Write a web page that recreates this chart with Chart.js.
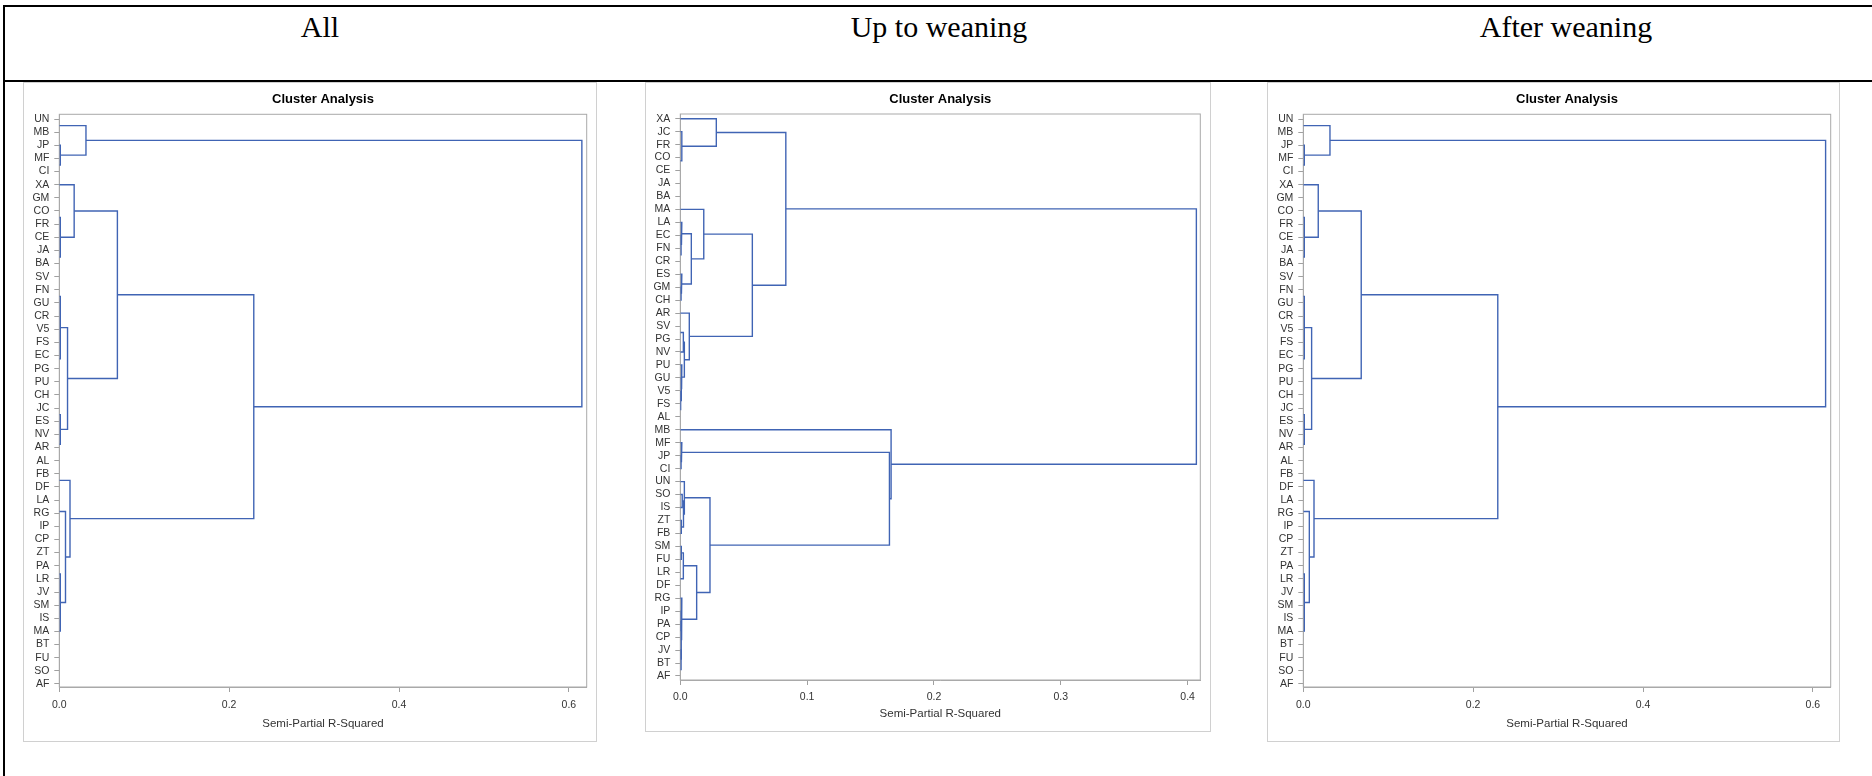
<!DOCTYPE html>
<html><head><meta charset="utf-8">
<script src="https://cdn.jsdelivr.net/npm/chart.js@4.4.1/dist/chart.umd.min.js"></script>
<style>
body{margin:0;background:#fff;width:1872px;height:776px;overflow:hidden;position:relative;font-family:'Liberation Sans',Arial,sans-serif}
.rule{position:absolute;background:#000}
.head{position:absolute;top:10px;font-family:'Liberation Serif','Times New Roman',serif;font-size:30px;line-height:34px;color:#000;transform:translateX(-50%);white-space:nowrap}
.panel{position:absolute;border:1px solid #d0d0d0;box-sizing:border-box;background:#fff}
canvas{position:absolute}
</style></head><body>
<div class="rule" style="left:3px;top:5px;width:1869px;height:2px"></div>
<div class="rule" style="left:3px;top:5px;width:2px;height:771px"></div>
<div class="rule" style="left:3px;top:80px;width:1869px;height:2px"></div>
<div class="head" style="left:320px">All</div>
<div class="head" style="left:939px">Up to weaning</div>
<div class="head" style="left:1566px">After weaning</div>
<div class="panel" style="left:23px;top:82px;width:574px;height:660px"></div>
<div class="panel" style="left:645px;top:82px;width:566px;height:650px"></div>
<div class="panel" style="left:1267px;top:82px;width:573px;height:660px"></div>
<canvas id="c1" width="574" height="660" style="left:23px;top:82px"></canvas>
<canvas id="c2" width="566" height="650" style="left:645px;top:82px"></canvas>
<canvas id="c3" width="573" height="660" style="left:1267px;top:82px"></canvas>
<script>
// ---------- Panel "All" ----------
const allLeaves = ['UN','MB','JP','MF','CI','XA','GM','CO','FR','CE','JA','BA','SV','FN','GU','CR','V5','FS','EC','PG','PU','CH','JC','ES','NV','AR','AL','FB','DF','LA','RG','IP','CP','ZT','PA','LR','JV','SM','IS','MA','BT','FU','SO','AF'];
// each merge joins A and B (leaf label, or number = earlier merge) at a semi-partial R-squared height
const allJoinA = ['UN','MF','JP',0,'GM','FR',4,'JA',6,'XA','SV','GU',10,'FS','V5','PU','PG',14,12,'JC','AR','NV',19,18,9,'FB','IP','RG','LA','ZT','JV','LR',29,'SO','FU','BT','MA','IS',32,28,25,24,3];
const allJoinB = ['MB','CI',1,2,'CO','CE',5,'BA',7,8,'FN','CR',11,'EC',13,'CH',15,16,17,'ES','AL',20,21,22,23,'DF','CP',26,27,'PA','SM',30,31,'AF',33,34,35,36,37,38,39,40,41];
const allHeight = [0,0,0.0012,0.0314,0,0,0,0,0.0012,0.0175,0,0,0,0,0,0,0,0,0.0012,0,0,0,0.0012,0.0097,0.0684,0,0,0,0,0,0,0,0,0,0,0,0,0,0.0012,0.0073,0.0126,0.2290,0.6153];
const allXTicks = [0,0.2,0.4,0.6];

// ---------- Panel "Up to weaning" ----------
const upLeaves = ['XA','JC','FR','CO','CE','JA','BA','MA','LA','EC','FN','CR','ES','GM','CH','AR','SV','PG','NV','PU','GU','V5','FS','AL','MB','MF','JP','CI','UN','SO','IS','ZT','FB','SM','FU','LR','DF','RG','IP','PA','CP','JV','BT','AF'];
const upJoinA = ['CO','JA',0,'FR','JC','XA','FN','EC','LA','GM','ES',8,'MA','SV',13,'FS','V5','GU','PU',14,'AR',12,5,'JP','MF','SO','ZT',25,'UN','SM','LR',29,'PA','IP','BT','JV',33,'RG',31,28,24,'MB',22];
const upJoinB = ['CE','BA',1,2,3,4,'CR',6,7,'CH',9,10,11,'PG','NV','AL',15,16,17,18,19,20,21,'CI',23,'IS','FB',26,27,'FU','DF',30,'CP',32,'AF',34,35,36,37,38,39,40,41];
const upHeight = [0,0,0,0,0.0012,0.0284,0,0.0006,0.0012,0.0006,0.0012,0.0087,0.0185,0,0.0024,0,0.0004,0.0008,0.0012,0.0032,0.0071,0.0568,0.0832,0.0006,0.0012,0.0015,0.0008,0.0025,0.0032,0.0008,0,0.0024,0,0.0006,0,0.0006,0.0008,0.0012,0.0129,0.0234,0.1649,0.1662,0.4069];
const upXTicks = [0,0.1,0.2,0.3,0.4];

// ---------- Panel "After weaning" ----------
const afterLeaves = ['UN','MB','JP','MF','CI','XA','GM','CO','FR','CE','JA','BA','SV','FN','GU','CR','V5','FS','EC','PG','PU','CH','JC','ES','NV','AR','AL','FB','DF','LA','RG','IP','CP','ZT','PA','LR','JV','SM','IS','MA','BT','FU','SO','AF'];
const afterJoinA = ['UN','MF','JP',0,'GM','FR',4,'JA',6,'XA','SV','GU',10,'FS','V5','PU','PG',14,12,'JC','AR','NV',19,18,9,'FB','IP','RG','LA','ZT','JV','LR',29,'SO','FU','BT','MA','IS',32,28,25,24,3];
const afterJoinB = ['MB','CI',1,2,'CO','CE',5,'BA',7,8,'FN','CR',11,'EC',13,'CH',15,16,17,'ES','AL',20,21,22,23,'DF','CP',26,27,'PA','SM',30,31,'AF',33,34,35,36,37,38,39,40,41];
const afterHeight = [0,0,0.0012,0.0314,0,0,0,0,0.0012,0.0176,0,0,0,0,0,0,0,0,0.0012,0,0,0,0.0012,0.0098,0.0682,0,0,0,0,0,0,0,0,0,0,0,0,0,0.0012,0.0071,0.0126,0.2290,0.6150];
const afterXTicks = [0,0.2,0.4,0.6];

const LINE = '#4064b4';
const FONT = "'Liberation Sans', Arial, sans-serif";

function dendroDatasets(leaves, jA, jB, jH){
  const lp = {}; leaves.forEach((l,i)=>lp[l]=i);
  const mp = [], mh = [];
  const posOf = c => typeof c === 'string' ? lp[c] : mp[c];
  const hOf = c => typeof c === 'string' ? 0 : mh[c];
  const sets = [];
  for (let k=0;k<jA.length;k++){
    const ya = posOf(jA[k]), yb = posOf(jB[k]);
    const ha = hOf(jA[k]), hb = hOf(jB[k]), h = jH[k];
    mp[k] = (ya+yb)/2; mh[k] = h;
    if (h > 0){
      sets.push({
        data:[{x:ha,y:ya},{x:h,y:ya},{x:h,y:yb},{x:hb,y:yb}],
        showLine:true, borderColor:LINE, borderWidth:1.4, pointRadius:0,
        fill:false, tension:0
      });
    }
  }
  return sets;
}

const frame = {
  id:'frame',
  beforeDatasetsDraw(chart){
    const {ctx, chartArea:a} = chart;
    ctx.save(); ctx.strokeStyle='#a9a9a9'; ctx.lineWidth=1;
    ctx.strokeRect(a.left, a.top, a.right-a.left, a.bottom-a.top);
    ctx.restore();
  },
  afterDraw(chart){
    const {ctx, chartArea:a} = chart;
    const g = chart.options.plugins.frame;
    ctx.save(); ctx.fillStyle='#000'; ctx.font = "bold 13px " + FONT;
    ctx.textAlign='center'; ctx.textBaseline='middle';
    ctx.fillText('Cluster Analysis', (a.left+a.right)/2, g.titleY);
    ctx.restore();
  }
};

function makePanel(id, leaves, jA, jB, jH, xMax, xTicks, g){
  new Chart(document.getElementById(id), {
    type:'scatter',
    data:{datasets: dendroDatasets(leaves, jA, jB, jH)},
    plugins:[frame],
    options:{
      responsive:false, animation:false, events:[],
      layout:{padding:{top:g.top, right:g.right, left:0, bottom:0}},
      plugins:{legend:{display:false}, tooltip:{enabled:false}, frame:{titleY:g.titleY}},
      scales:{
        x:{type:'linear', min:0, max:xMax,
          afterBuildTicks: s => { s.ticks = xTicks.map(v=>({value:v})); },
          afterFit: s => { s.height = g.xh; },
          ticks:{callback:v=>Number(v).toFixed(1), color:'#333', font:{family:FONT,size:10.5}, padding:g.tickPad, maxRotation:0, autoSkip:false},
          grid:{drawOnChartArea:false, drawTicks:true, tickLength:5, color:'#a0a0a0'},
          border:{color:'#a9a9a9'},
          title:{display:true, text:'Semi-Partial R-Squared', color:'#333', font:{family:FONT,size:11.5}, padding:{top:0,bottom:g.titlePad}}
        },
        y:{type:'linear', reverse:true, min:g.ymin, max:g.ymax,
          afterBuildTicks: s => { s.ticks = leaves.map((_,i)=>({value:i})); },
          afterFit: s => { s.width = g.yw; },
          ticks:{callback:v=>leaves[Math.round(v)], color:'#333', font:{family:FONT,size:10.5}, padding:5, autoSkip:false},
          grid:{drawOnChartArea:false, drawTicks:true, tickLength:5, color:'#a0a0a0'},
          border:{color:'#a9a9a9'}
        }
      }
    }
  });
}

makePanel('c1', allLeaves, allJoinA, allJoinB, allHeight, 0.621, allXTicks,
  {top:32.3, right:10.3, xh:55, yw:36.3, ymin:-0.36, ymax:43.23, titleY:17.5, tickPad:7, titlePad:11.6});
makePanel('c2', upLeaves, upJoinA, upJoinB, upHeight, 0.410, upXTicks,
  {top:32, right:10.7, xh:52, yw:35.3, ymin:-0.363, ymax:43.31, titleY:17.8, tickPad:6, titlePad:11.1});
makePanel('c3', afterLeaves, afterJoinA, afterJoinB, afterHeight, 0.621, afterXTicks,
  {top:32.3, right:9.3, xh:55, yw:36.3, ymin:-0.36, ymax:43.23, titleY:17.5, tickPad:7, titlePad:11.6});
</script>
</body></html>
